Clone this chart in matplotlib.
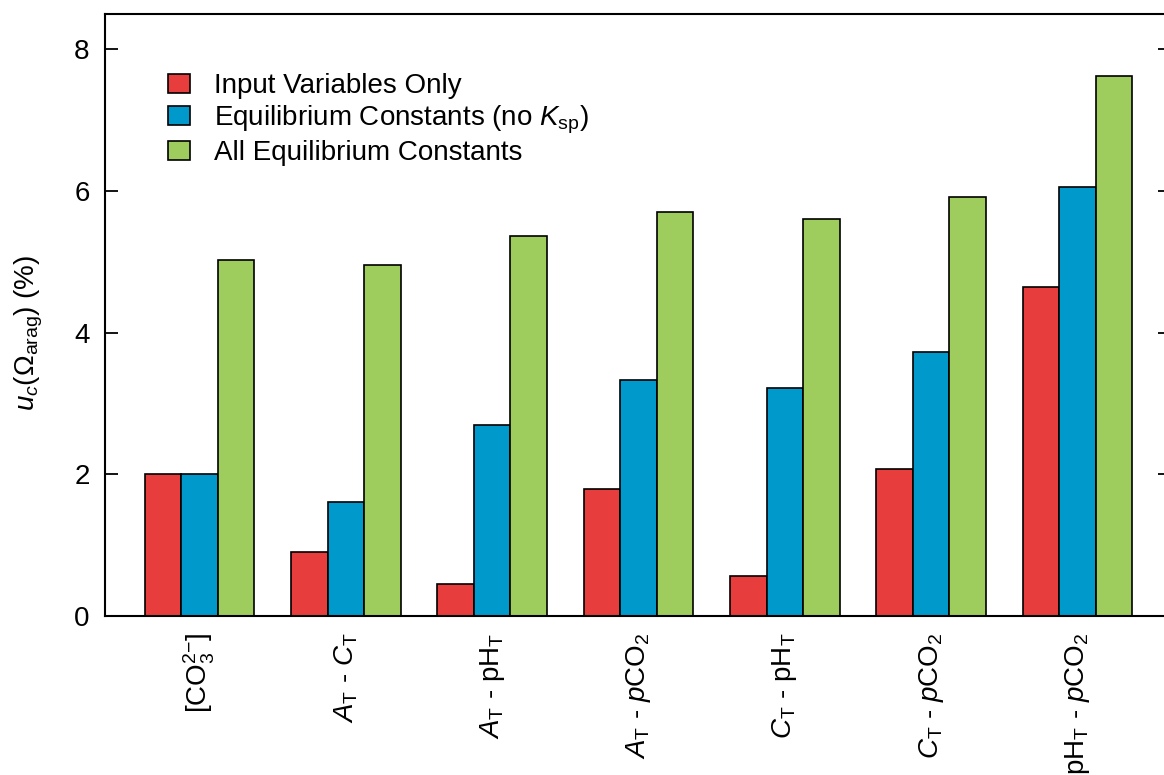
import numpy as np
import matplotlib
matplotlib.use("Agg")
import matplotlib.pyplot as plt

plt.rcParams["font.family"] = ["Liberation Sans", "DejaVu Sans"]
plt.rcParams["mathtext.fontset"] = "custom"
plt.rcParams["mathtext.rm"] = "Liberation Sans"
plt.rcParams["mathtext.it"] = "Liberation Sans:italic"
plt.rcParams["mathtext.bf"] = "Liberation Sans:bold"

# --------------------------------------------------
# Data
# --------------------------------------------------
pairs = [
    r"[CO$_3^{2\mathrm{-}}$]",
    r"$A_\mathrm{T}$ - $C_\mathrm{T}$",
    r"$A_\mathrm{T}$ - pH$_\mathrm{T}$",
    r"$A_\mathrm{T}$ - $p$CO$_2$",
    r"$C_\mathrm{T}$ - pH$_\mathrm{T}$",
    r"$C_\mathrm{T}$ - $p$CO$_2$",
    r"pH$_\mathrm{T}$ - $p$CO$_2$",
]
input_only = [2.00, 0.90, 0.45, 1.80, 0.57, 2.08, 4.65]
eq_no_ksp = [2.00, 1.61, 2.70, 3.34, 3.22, 3.73, 6.06]
all_eq = [5.02, 4.95, 5.36, 5.70, 5.61, 5.92, 7.62]

series_labels = [
    "Input Variables Only",
    r"Equilibrium Constants (no $K_\mathrm{sp}$)",
    "All Equilibrium Constants",
]
colors = ["#E83D3D", "#0099CC", "#9FCD5D"]

# --------------------------------------------------
# Plot
# --------------------------------------------------
fig = plt.figure(figsize=(11.64, 7.75), dpi=100)
ax = fig.add_axes([0.0902, 0.205, 0.915, 0.777])

x = np.arange(len(pairs))
width = 0.25
for i, (vals, lab, col) in enumerate(zip([input_only, eq_no_ksp, all_eq], series_labels, colors)):
    ax.bar(x + (i - 1) * width, vals, width, color=col, edgecolor="black",
           linewidth=1.2, label=lab)

ax.set_xlim(-0.646, 6.633)
ax.set_ylim(0, 8.5)
ax.set_yticks([0, 2, 4, 6, 8])
ax.set_xticks(x)
ax.set_xticklabels(pairs, rotation=90, va="top", ha="center")
ax.tick_params(axis="x", length=0, pad=12, labelsize=20)
ax.tick_params(axis="y", direction="in", length=9, width=1.3, right=True,
               labelsize=20, pad=11)
for s in ax.spines.values():
    s.set_linewidth(1.5)

ax.set_ylabel(r"$u_c(\Omega_\mathrm{arag})$ (%)", fontsize=20)
ax.yaxis.set_label_coords(-0.0565, 0.47)

ax.legend(loc="upper left", bbox_to_anchor=(0.0485, 0.92), frameon=False,
          fontsize=20, handlelength=0.8, handleheight=0.65,
          labelspacing=0.16, handletextpad=0.85, borderaxespad=0)

fig.savefig("out.png", dpi=100)
